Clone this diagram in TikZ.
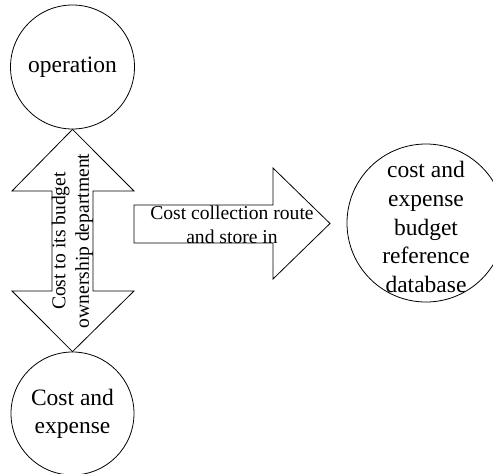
\documentclass[tikz,border=0pt]{standalone}
\usepackage{fontspec}
\setmainfont{Liberation Serif}
\begin{document}
\begin{tikzpicture}[x=1pt,y=-1pt, line width=0.8pt,
  bubble/.style={draw, circle, minimum size=#1, inner sep=0pt, align=center,
    font=\fontsize{23.5}{28}\selectfont},
  bigtext/.style={align=center, inner sep=0pt, font=\fontsize{23.5}{28.7}\selectfont},
  arrowshape/.style={draw, line join=miter},
  arrowtext/.style={align=center, inner sep=0pt, font=\fontsize{19.6}{23.5}\selectfont}]
\useasboundingbox (0,0) rectangle (493,474);
\node[bubble=124pt] (op) at (72.5,67) {operation};
\node[bubble=123pt] (ce) at (72.5,413.5) {Cost and\\expense};
\node[bubble=158pt] (db) at (426,223) {};
\node[bigtext] (dbt) at (db.center) [yshift=-4pt] {cost and\\expense\\budget\\reference\\database};
% double arrow between operation and cost
\draw[arrowshape] (op.south) -- (134,191) -- (93,191) -- (93,291) -- (134,291) -- (ce.north)
  -- (12,291) -- (52,291) -- (52,191) -- (12,191) -- cycle;
\node[arrowtext, rotate=90] (vt) at (72.5,241) {Cost to its budget\\ownership department};
% right arrow
\coordinate (tip) at (330,223.5);
\draw[arrowshape] (134,205) -- (273,205) -- (273,168) -- (tip) -- (273,279) -- (273,243) -- (134,243) -- cycle;
\node[arrowtext] (ht) at (232,225) {Cost collection route\\and store in};
\end{tikzpicture}
\end{document}
